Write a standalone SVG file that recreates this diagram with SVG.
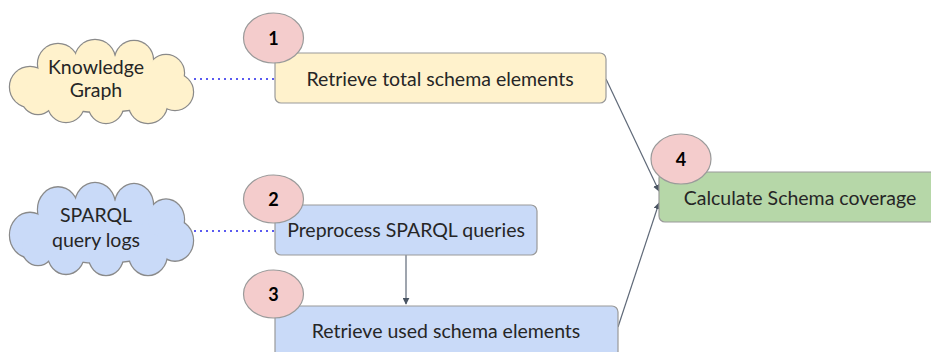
<svg xmlns="http://www.w3.org/2000/svg" xmlns:xlink="http://www.w3.org/1999/xlink" width="931" height="352" viewBox="0 0 931 352">
  <style>
    text { font-family: Lato, "Liberation Sans", sans-serif; fill: #262626; }
    .label { font-size: 19.5px; text-anchor: middle; }
    .num { font-size: 18px; font-weight: bold; text-anchor: middle; fill: #000; }
    .box { stroke: #9a9a9a; stroke-width: 1.2; }
    .yellow { fill: #fff2cc; }
    .blue { fill: #c9daf8; }
    .green { fill: #b6d7a8; }
    .badge { fill: #f4cccc; stroke: #9a9a9a; stroke-width: 1.2; }
    .cloud-outline { stroke: #8a8a8a; stroke-width: 2.4; }
    .cloud-fill { stroke: none; }
    .flow { stroke: #5f6978; stroke-width: 1.2; fill: none; marker-end: url(#head); }
    .link { stroke: #5a5af0; stroke-width: 2; stroke-dasharray: 2 4; fill: none; }
  </style>
  <defs>
    <marker id="head" viewBox="0 0 10 10" refX="9" refY="5" markerWidth="7" markerHeight="7" markerUnits="userSpaceOnUse" orient="auto">
      <path d="M0,0 L10,5 L0,10 z" fill="#4a5563"/>
    </marker>
    <!-- cloud silhouette: union of overlapping lobes, 183 x 83 -->
    <g id="cloudLobes">
      <ellipse cx="92" cy="44" rx="72" ry="28"/>
      <circle cx="20" cy="47" r="20"/>
      <circle cx="48" cy="24" r="20"/>
      <circle cx="85" cy="20" r="20"/>
      <circle cx="124" cy="20" r="19"/>
      <circle cx="156" cy="33" r="18"/>
      <circle cx="165" cy="52" r="18"/>
      <circle cx="138" cy="64" r="19"/>
      <circle cx="96" cy="66" r="17"/>
      <circle cx="56" cy="64" r="18"/>
      <circle cx="28" cy="58" r="16"/>
    </g>
  </defs>

  <rect width="931" height="352" fill="#ffffff"/>

  <g id="connectors">
    <line class="link" x1="194" y1="79" x2="274" y2="79"/>
    <line class="link" x1="194" y1="231" x2="274" y2="231"/>
    <line class="flow" x1="406" y1="255" x2="406" y2="304"/>
    <line class="flow" x1="606" y1="79" x2="659" y2="191"/>
    <line class="flow" x1="618" y1="327" x2="659" y2="203"/>
  </g>

  <g id="knowledge-graph">
    <g transform="translate(10,40)">
      <use xlink:href="#cloudLobes" href="#cloudLobes" class="cloud-outline" fill="#fff2cc"/>
      <use xlink:href="#cloudLobes" href="#cloudLobes" class="cloud-fill" fill="#fff2cc"/>
    </g>
    <text class="label" x="96" y="74">Knowledge</text>
    <text class="label" x="96" y="97">Graph</text>
  </g>

  <g id="query-logs">
    <g transform="translate(10,183) scale(1,1.108)">
      <use xlink:href="#cloudLobes" href="#cloudLobes" class="cloud-outline" fill="#c9daf8"/>
      <use xlink:href="#cloudLobes" href="#cloudLobes" class="cloud-fill" fill="#c9daf8"/>
    </g>
    <text class="label" x="96" y="222">SPARQL</text>
    <text class="label" x="96" y="247">query logs</text>
  </g>

  <g id="step1">
    <rect class="box yellow" x="275" y="53" width="331" height="50" rx="6"/>
    <text class="label" x="440" y="86">Retrieve total schema elements</text>
    <ellipse class="badge" cx="273.5" cy="38" rx="30" ry="25"/>
    <text class="num" x="273.5" y="45">1</text>
  </g>

  <g id="step2">
    <rect class="box blue" x="275" y="205" width="262" height="50" rx="6"/>
    <text class="label" x="406" y="237">Preprocess SPARQL queries</text>
    <ellipse class="badge" cx="273.5" cy="199" rx="30" ry="24"/>
    <text class="num" x="273.5" y="206">2</text>
  </g>

  <g id="step3">
    <rect class="box blue" x="275" y="306" width="343" height="52" rx="6"/>
    <text class="label" x="446" y="338">Retrieve used schema elements</text>
    <ellipse class="badge" cx="273.5" cy="294" rx="30" ry="24"/>
    <text class="num" x="273.5" y="301">3</text>
  </g>

  <g id="step4">
    <rect class="box green" x="659" y="172" width="280" height="50" rx="6"/>
    <text class="label" x="800" y="205">Calculate Schema coverage</text>
    <ellipse class="badge" cx="681" cy="159" rx="30" ry="25"/>
    <text class="num" x="681" y="166">4</text>
  </g>
</svg>
